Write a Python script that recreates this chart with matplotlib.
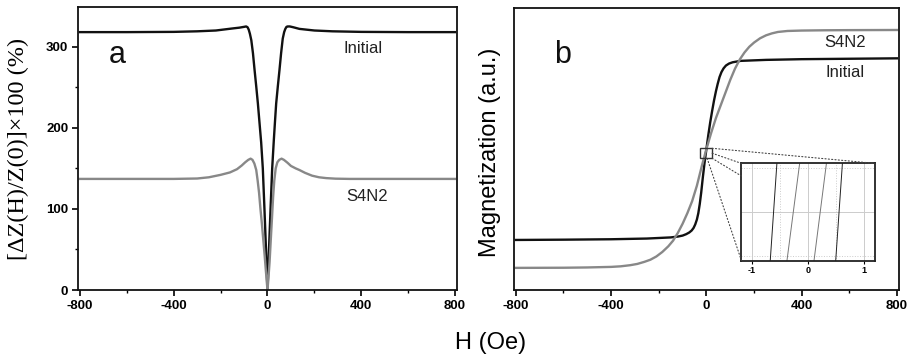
import numpy as np
import matplotlib
matplotlib.use("Agg")
import matplotlib.pyplot as plt
from matplotlib.patches import Rectangle, ConnectionPatch
from matplotlib.ticker import MultipleLocator

plt.rcParams['font.family'] = ['Liberation Sans', 'DejaVu Sans']
plt.rcParams['axes.unicode_minus'] = False

# --- panel a : GMI ratio vs field ---
H_a_init = [-800, -600, -400, -300, -220, -150, -120, -100, -91, -85, -80, -75, -69, -62, -55, -48, -41,
            -34, -27, -20, -13, -6, -2, 0,
            2, 6, 13, 20, 27, 32, 37, 44, 51, 58, 65, 71, 76, 81, 86, 95, 110, 136, 200, 277, 400, 600, 800]
Z_a_init = [318, 318, 318.3, 319, 320, 322.5, 323.5, 324.5, 325, 324, 321, 316, 308, 292, 271, 251, 230,
            206, 182, 150, 100, 47, 15, 0,
            15, 47, 100, 150, 185, 208, 230, 251, 271, 292, 310, 318, 322, 324.5, 325, 325, 324, 322,
            320, 319, 318.3, 318, 318]

H_a_s4n2 = [-800, -600, -400, -300, -250, -200, -160, -130, -110, -95, -82, -72, -64, -56, -48, -42, -36,
            -30, -24, -18, -12, -7, -3, 0,
            4, 9, 14, 19, 24, 29, 35, 42, 50, 60, 70, 85, 100, 120, 136, 160, 190, 220, 250, 290, 350,
            400, 600, 800]
Z_a_s4n2 = [137, 137, 137, 137.5, 139, 142, 145, 149, 153.5, 157.5, 160.5, 162, 160.5, 156, 148, 135, 120,
            100, 82, 62, 42, 24, 10, 0,
            15, 35, 62, 88, 115, 135, 150, 157.5, 160.5, 162, 160.5, 157, 153, 150, 148, 144.5, 141, 139,
            138, 137.3, 137, 137, 137, 137]

# --- panel b : magnetization loops (normalised) ---
H_b_init = [-800, -600, -400, -250, -150, -120, -100, -85, -72, -62, -54, -47, -40, -34, -28, -22, -15,
            -8, 0, 8, 16, 24, 32, 40, 47, 55, 63, 72, 82, 95, 110, 143, 250, 400, 600, 800]
M_b_init = [-0.645, -0.643, -0.640, -0.635, -0.627, -0.621, -0.614, -0.604, -0.592, -0.578, -0.560,
            -0.535, -0.50, -0.455, -0.39, -0.31, -0.20, -0.10, 0.0, 0.10, 0.19, 0.27, 0.345, 0.41, 0.46,
            0.51, 0.545, 0.572, 0.592, 0.606, 0.615, 0.625, 0.632, 0.637, 0.640, 0.643]

H_b_s4n2 = [-800, -600, -500, -450, -400, -360, -320, -290, -260, -235, -210, -185, -160, -140, -120,
            -100, -80, -60, -40, -20, 0, 20, 40, 60, 80, 100, 120, 140, 160, 180, 200, 225, 250, 275,
            300, 340, 400, 500, 600, 800]
M_b_s4n2 = [-0.843, -0.842, -0.840, -0.838, -0.836, -0.832, -0.824, -0.815, -0.800, -0.785, -0.762,
            -0.730, -0.690, -0.650, -0.595, -0.530, -0.455, -0.370, -0.260, -0.125, 0.0, 0.115, 0.22,
            0.31, 0.40, 0.49, 0.57, 0.635, 0.685, 0.725, 0.755, 0.785, 0.806, 0.820, 0.830, 0.837,
            0.840, 0.842, 0.843, 0.844]

# zoomed inset: crossing points of the four branches at bottom / top of the window
inset_bot = [-0.675, -0.376, 0.108, 0.496]
inset_top = [-0.556, -0.149, 0.33, 0.616]
inset_col = ['#222222', '#777777', '#777777', '#222222']

black = '#111111'
gray = '#888888'

fig = plt.figure(figsize=(9.08, 3.6), dpi=100)
ax1 = fig.add_axes([0.0859, 0.1944, 0.4174, 0.7862])
ax2 = fig.add_axes([0.566, 0.1944, 0.424, 0.7834])

for ax in (ax1, ax2):
    for s in ax.spines.values():
        s.set_linewidth(1.3)
        s.set_color('#111111')
    ax.set_xlim(-808, 808)
    ax.xaxis.set_major_locator(MultipleLocator(400))
    ax.xaxis.set_minor_locator(MultipleLocator(200))
    ax.tick_params(axis='both', which='major', direction='out', length=4, width=1.2,
                   labelsize=9.5, pad=3)
    ax.tick_params(axis='both', which='minor', direction='out', length=2.5, width=1.0)
    ax.tick_params(top=False, right=False, which='both')

# panel a
ax1.plot(H_a_init, Z_a_init, color=black, lw=1.7)
ax1.plot(H_a_s4n2, Z_a_s4n2, color=gray, lw=1.7)
ax1.set_ylim(0, 349)
ax1.yaxis.set_major_locator(MultipleLocator(100))
ax1.yaxis.set_minor_locator(MultipleLocator(50))
ax1.text(0.103, 0.83, 'a', transform=ax1.transAxes, fontsize=22, ha='center', va='center', color='#111')
ax1.text(0.752, 0.855, 'Initial', transform=ax1.transAxes, fontsize=12, ha='center', va='center', color='#222')
ax1.text(0.763, 0.329, 'S4N2', transform=ax1.transAxes, fontsize=12, ha='center', va='center', color='#222')
fig.text(0.02, 0.586, '[ΔZ(H)/Z(0)]×100 (%)', rotation=90, ha='center', va='center',
         fontsize=17.5, family=['Liberation Serif', 'DejaVu Serif'])

# panel b
ax2.plot(H_b_init, M_b_init, color=black, lw=1.7)
ax2.plot(H_b_s4n2, M_b_s4n2, color=gray, lw=1.7)
ax2.set_ylim(-1, 1)
ax2.set_yticks([])
ax2.text(0.127, 0.833, 'b', transform=ax2.transAxes, fontsize=22, ha='center', va='center', color='#111')
ax2.text(0.86, 0.876, 'S4N2', transform=ax2.transAxes, fontsize=12, ha='center', va='center', color='#222')
ax2.text(0.86, 0.773, 'Initial', transform=ax2.transAxes, fontsize=12, ha='center', va='center', color='#222')
fig.text(0.54, 0.578, 'Magnetization (a.u.)', rotation=90, ha='center', va='center', fontsize=17)

fig.text(0.54, 0.047, 'H (Oe)', ha='center', va='center', fontsize=17)

for ax in (ax1, ax2):
    for lab in ax.get_xticklabels() + ax.get_yticklabels():
        lab.set_fontweight('bold')

# small zoom box and inset
box = Rectangle((-28, -0.066), 52, 0.071, fill=False, edgecolor='#333333', lw=1.0, zorder=5)
ax2.add_patch(box)

axins = ax2.inset_axes([0.591, 0.104, 0.347, 0.345])
axins.set_xlim(-1.19, 1.2)
axins.set_ylim(-1, 1)
for i in range(4):
    axins.plot([inset_bot[i], inset_top[i]], [-1, 1], color=inset_col[i], lw=0.7)
for xv in (-1, 0, 1):
    axins.axvline(xv, color='#cccccc', lw=0.7, zorder=0)
for xv in (-0.5, 0.5):
    axins.axvline(xv, color='#cccccc', lw=0.7, ls=':', zorder=0)
axins.axhline(0, color='#cccccc', lw=0.7, zorder=0)
for yv in (-0.9, 0.9):
    axins.axhline(yv, color='#cccccc', lw=0.7, ls=':', zorder=0)
axins.set_yticks([])
axins.set_xticks([-1, 0, 1])
axins.set_xticklabels(['-1', '0', '1'])
axins.tick_params(axis='x', direction='out', length=2.5, width=0.8, labelsize=6.5, pad=1.5)
for lab in axins.get_xticklabels():
    lab.set_fontweight('bold')
for s in axins.spines.values():
    s.set_linewidth(1.3)
    s.set_color('#222222')

conn = [((24, 0.005), (1, 1)), ((24, -0.03), (0, 1)), ((24, -0.066), (0, 0.87)), ((3, -0.066), (0, 0))]
for a, b in conn:
    cp = ConnectionPatch(xyA=a, coordsA=ax2.transData, xyB=b, coordsB=axins.transAxes,
                         color='#444444', lw=0.8, ls=(0, (1, 2)))
    fig.add_artist(cp)

fig.savefig('out.png', dpi=100)
